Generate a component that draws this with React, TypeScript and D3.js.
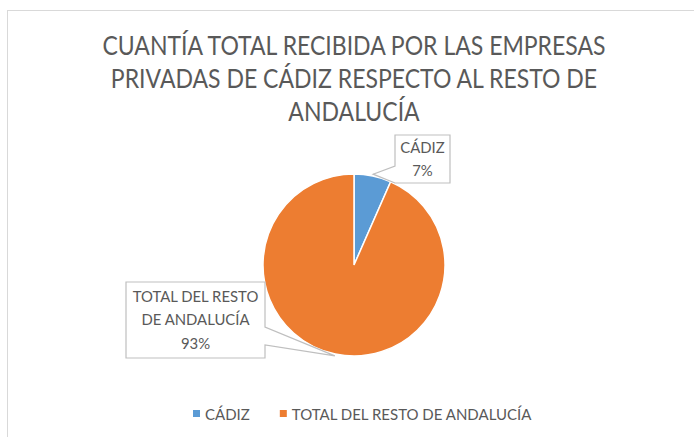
import React, { useEffect, useRef } from 'react';
import * as d3 from 'd3';

// datos del gráfico
const categories = ['CÁDIZ', 'TOTAL DEL RESTO DE ANDALUCÍA'];
const values = [6.6, 93.4];
const colors = ['#5B9BD5', '#ED7D31'];
const titleLines = [
  'CUANTÍA TOTAL RECIBIDA POR LAS EMPRESAS',
  'PRIVADAS DE CÁDIZ RESPECTO AL RESTO DE',
  'ANDALUCÍA',
];
const calloutLines = [['CÁDIZ'], ['TOTAL DEL RESTO', 'DE ANDALUCÍA']];

const W = 694;
const H = 437;
const FONT = 'Lato, "Open Sans", sans-serif';
const TEXT = '#595959';

export default function App() {
  const svgRef = useRef<SVGSVGElement>(null);

  useEffect(() => {
    if (!svgRef.current) return;
    const svg = d3.select(svgRef.current);
    svg.selectAll('*').remove();

    // marco del área del gráfico (cortado a la derecha y abajo)
    svg.append('rect')
      .attr('x', 7.5).attr('y', 10.5)
      .attr('width', W + 20).attr('height', H + 20)
      .attr('fill', '#fff').attr('stroke', '#D9D9D9');

    // título (letra estrecha, como Calibri)
    const title = svg.append('text')
      .attr('text-anchor', 'middle')
      .attr('transform', 'translate(354,0) scale(0.885,1)')
      .attr('font-family', FONT)
      .attr('font-size', 26)
      .attr('fill', TEXT);
    titleLines.forEach((t, i) => {
      title.append('tspan').attr('x', 0).attr('y', 55 + i * 33).text(t);
    });

    const cx = 354, cy = 265, r = 91;
    const g = svg.append('g').attr('transform', `translate(${cx},${cy})`);

    const pie = d3.pie<number>().sort(null).value(d => d);
    const arcs = pie(values);
    const arc = d3.arc<d3.PieArcDatum<number>>().innerRadius(0).outerRadius(r);

    g.selectAll('path.slice')
      .data(arcs)
      .enter()
      .append('path')
      .attr('class', 'slice')
      .attr('d', arc)
      .attr('fill', (_, i) => colors[i])
      .attr('stroke', '#fff')
      .attr('stroke-width', 1.5);

    const total = d3.sum(values);
    const pct = (v: number) => `${Math.round((v / total) * 100)}%`;

    // cajas de las etiquetas (posición y lado del puntero)
    const boxes = [
      { x: 395, y: 135, w: 55, h: 48, side: 'left', a0: 166, a1: 183 },
      { x: 126, y: 282, w: 139, h: 76, side: 'right', a0: 327, a1: 345 },
    ];

    arcs.forEach((a, i) => {
      const mid = (a.startAngle + a.endAngle) / 2;
      const tx = cx + Math.sin(mid) * r * 1.02;
      const ty = cy - Math.cos(mid) * r * 1.02;
      const b = boxes[i];
      const p = d3.path();
      if (b.side === 'left') {
        p.moveTo(b.x, b.y);
        p.lineTo(b.x + b.w, b.y);
        p.lineTo(b.x + b.w, b.y + b.h);
        p.lineTo(b.x, b.y + b.h);
        p.lineTo(tx, ty);
        p.lineTo(b.x, b.a0);
        p.closePath();
      } else {
        p.moveTo(b.x, b.y);
        p.lineTo(b.x + b.w, b.y);
        p.lineTo(b.x + b.w, b.a0);
        p.lineTo(tx, ty);
        p.lineTo(b.x + b.w, b.a1);
        p.lineTo(b.x + b.w, b.y + b.h);
        p.lineTo(b.x, b.y + b.h);
        p.closePath();
      }
      svg.append('path')
        .attr('d', p.toString())
        .attr('fill', '#fff')
        .attr('stroke', '#BFBFBF')
        .attr('stroke-width', 1.2);

      const lines = [...calloutLines[i], pct(values[i])];
      const txt = svg.append('text')
        .attr('text-anchor', 'middle')
        .attr('transform', `translate(${b.x + b.w / 2},0) scale(0.93,1)`)
        .attr('font-family', FONT)
        .attr('font-size', 16)
        .attr('fill', TEXT);
      const lh = 23.5;
      const y0 = b.y + b.h / 2 - ((lines.length - 1) * lh) / 2 + 5.5;
      lines.forEach((l, j) => {
        txt.append('tspan').attr('x', 0).attr('y', y0 + j * lh).text(l);
      });
    });

    // leyenda
    const legend = svg.append('g').attr('font-family', FONT).attr('font-size', 15).attr('fill', TEXT);
    let x = 193;
    categories.forEach((c, i) => {
      legend.append('rect')
        .attr('x', x).attr('y', 410)
        .attr('width', 7).attr('height', 7)
        .attr('fill', colors[i]);
      const t = legend.append('text').attr('x', x + 12).attr('y', 419.5).text(c);
      const len = (t.node() as SVGTextElement).getComputedTextLength();
      x = x + 12 + len + 30;
    });
  }, []);

  return (
    <svg
      ref={svgRef}
      width={W}
      height={H}
      style={{ position: 'absolute', left: 0, top: 0, background: '#fff' }}
    />
  );
}
